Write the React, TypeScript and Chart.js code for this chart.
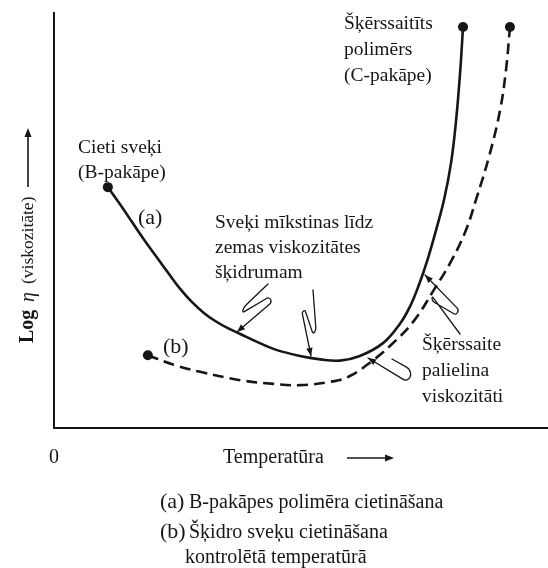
import React, { useEffect, useRef } from "react";
import { Chart, registerables } from "chart.js";

Chart.register(...registerables);

// ---- Data (schematic units: temperature 0..100, log viscosity 0..100) ----
const tempA = [10.9, 13.4, 15.8, 18.2, 20.7, 23.1, 25.5, 27.9, 30.4, 32.8, 35.2, 37.7, 41.1, 44.7, 49.8, 53.9, 57.9, 61.9, 66.6, 70.0, 72.1, 73.9, 75.7, 77.3, 79.0, 80.4, 81.4, 82.2, 82.8];
const viscA = [57.9, 53.7, 49.5, 45.3, 41.2, 37.3, 33.5, 30.3, 27.6, 25.6, 24.0, 22.6, 20.7, 18.9, 17.3, 16.5, 16.2, 17.3, 20.4, 25.0, 29.3, 34.5, 40.8, 47.4, 55.1, 63.9, 74.0, 85.3, 96.4];
const tempB = [19.0, 24.5, 29.6, 37.7, 44.5, 49.8, 55.9, 59.9, 64.6, 68.0, 72.7, 76.9, 80.4, 83.4, 85.4, 88.1, 90.3, 91.5, 92.3];
const viscB = [17.5, 15.1, 13.5, 11.5, 10.6, 10.3, 11.1, 12.5, 16.3, 19.7, 25.5, 33.2, 40.1, 47.6, 54.8, 65.4, 76.4, 86.1, 96.4];

const xTickLabels = ["0"];
const xTitle = "Temperatūra";
const yTitleSub = "(viskozitāte)";
const labelA = "(a)";
const labelB = "(b)";
const noteSolid = ["Cieti sveķi", "(B-pakāpe)"];
const noteCross = ["Šķērssaitīts", "polimērs", "(C-pakāpe)"];
const noteSoften = ["Sveķi mīkstinas līdz", "zemas viskozitātes", "šķidrumam"];
const noteIncrease = ["Šķērssaite", "palielina", "viskozitāti"];
const legendA = "B-pakāpes polimēra cietināšana";
const legendB = ["Šķidro sveķu cietināšana", "kontrolētā temperatūrā"];

const W = 548;
const H = 568;
const FONT = '"Liberation Serif", "Times New Roman", serif';
const INK = "#161616";

function arrowHead(ctx: CanvasRenderingContext2D, fx: number, fy: number, tx: number, ty: number, len = 8, half = 3.2) {
  const a = Math.atan2(ty - fy, tx - fx);
  ctx.beginPath();
  ctx.moveTo(tx, ty);
  ctx.lineTo(tx - len * Math.cos(a) + half * Math.sin(a), ty - len * Math.sin(a) - half * Math.cos(a));
  ctx.lineTo(tx - len * Math.cos(a) - half * Math.sin(a), ty - len * Math.sin(a) + half * Math.cos(a));
  ctx.closePath();
  ctx.fill();
}

function squiggle(ctx: CanvasRenderingContext2D, pts: number[][], d = 5) {
  ctx.beginPath();
  ctx.moveTo(pts[0][0], pts[0][1]);
  for (let i = 1; i < pts.length - 1; i++) {
    const [px, py] = pts[i];
    const [ax0, ay0] = pts[i - 1];
    const [bx1, by1] = pts[i + 1];
    const l1 = Math.hypot(px - ax0, py - ay0);
    const l2 = Math.hypot(bx1 - px, by1 - py);
    const dd = Math.min(d, l1 / 2, l2 / 2);
    const ux = (px - ax0) / l1, uy = (py - ay0) / l1;
    const vx = (bx1 - px) / l2, vy = (by1 - py) / l2;
    const Ax = px - ux * dd, Ay = py - uy * dd;
    const Bx = px + vx * dd, By = py + vy * dd;
    ctx.lineTo(Ax, Ay);
    ctx.quadraticCurveTo(px, py, Bx, By);
  }
  const n = pts.length;
  ctx.lineTo(pts[n - 1][0], pts[n - 1][1]);
  ctx.stroke();
  arrowHead(ctx, pts[n - 2][0], pts[n - 2][1], pts[n - 1][0], pts[n - 1][1]);
}

export default function App() {
  const ref = useRef<HTMLCanvasElement | null>(null);

  useEffect(() => {
    if (!ref.current) return;

    const axesPlugin = {
      id: "axesLines",
      beforeDatasetsDraw(chart: any) {
        const { ctx, chartArea } = chart;
        ctx.save();
        ctx.strokeStyle = INK;
        ctx.lineWidth = 2;
        ctx.beginPath();
        ctx.moveTo(chartArea.left, chartArea.top);
        ctx.lineTo(chartArea.left, chartArea.bottom);
        ctx.lineTo(W, chartArea.bottom);
        ctx.stroke();
        ctx.restore();
      },
    };

    const annotPlugin = {
      id: "annotations",
      afterDatasetsDraw(chart: any) {
        const ctx: CanvasRenderingContext2D = chart.ctx;
        const xs = chart.scales.x;
        ctx.save();
        ctx.fillStyle = INK;
        ctx.strokeStyle = INK;
        ctx.textBaseline = "middle";
        ctx.textAlign = "left";
        ctx.font = `19.5px ${FONT}`;

        const lines = (arr: string[], x: number, y0: number, dy: number) =>
          arr.forEach((t, i) => ctx.fillText(t, x, y0 + i * dy));

        lines(noteSolid, 78, 148, 25);
        lines(noteCross, 344, 24, 26);
        lines(noteSoften, 215, 223, 25);
        lines(noteIncrease, 422, 345, 26);
        ctx.font = `22px ${FONT}`;
        ctx.fillText(labelA, 138, 218);
        ctx.fillText(labelB, 163, 347);

        // axis texts
        ctx.font = `20px ${FONT}`;
        ctx.textAlign = "center";
        ctx.fillText(xTickLabels[0], xs.getPixelForValue(0), 458);
        ctx.textAlign = "left";
        ctx.fillText(xTitle, 223, 458);
        ctx.lineWidth = 1.6;
        ctx.beginPath();
        ctx.moveTo(347, 458);
        ctx.lineTo(388, 458);
        ctx.stroke();
        arrowHead(ctx, 340, 458, 394, 458, 9, 3.5);

        // y title (rotated)
        ctx.save();
        ctx.translate(28, 0);
        ctx.rotate(-Math.PI / 2);
        ctx.textAlign = "left";
        ctx.font = `bold 20px ${FONT}`;
        ctx.fillText("Log", -343, 0);
        ctx.font = `italic 20px ${FONT}`;
        ctx.fillText("η", -302, 1);
        ctx.font = `17.5px ${FONT}`;
        ctx.fillText(yTitleSub, -284, 0);
        ctx.lineWidth = 1.6;
        ctx.beginPath();
        ctx.moveTo(-187, 0);
        ctx.lineTo(-135, 0);
        ctx.stroke();
        arrowHead(ctx, -190, 0, -128, 0, 9, 3.5);
        ctx.restore();

        // squiggly annotation arrows
        ctx.lineWidth = 1.3;
        ctx.lineJoin = "round";
        ctx.lineCap = "round";
        squiggle(ctx, [[268, 284], [244, 307], [242, 313], [269, 297], [272, 302], [237, 332]], 4);
        squiggle(ctx, [[313, 290], [316, 330], [313, 334], [305, 310], [302, 312], [311, 356]], 4);
        squiggle(ctx, [[460, 334], [432, 296], [432, 301], [456, 315], [459, 310], [425, 275]], 4);
        squiggle(ctx, [[392, 359], [410, 369], [411, 377], [406, 381], [368, 358]], 4);

        // bottom legend
        ctx.font = `22px ${FONT}`;
        ctx.fillText(labelA, 160, 502);
        ctx.fillText(labelB, 160, 532);
        ctx.font = `20px ${FONT}`;
        ctx.fillText(legendA, 189, 503);
        ctx.fillText(legendB[0], 189, 533);
        ctx.fillText(legendB[1], 185, 558);
        ctx.restore();
      },
    };

    const ptR = (n: number) => Array.from({ length: n }, (_, i) => (i === 0 || i === n - 1 ? 5 : 0));

    const chart = new Chart(ref.current, {
      type: "line",
      data: {
        datasets: [
          {
            label: "a",
            data: tempA.map((x, i) => ({ x, y: viscA[i] })),
            borderColor: INK,
            borderWidth: 2.6,
            pointRadius: ptR(tempA.length),
            pointBackgroundColor: INK,
            pointBorderWidth: 0,
            tension: 0.4,
            fill: false,
            clip: false,
          } as any,
          {
            label: "b",
            data: tempB.map((x, i) => ({ x, y: viscB[i] })),
            borderColor: INK,
            borderWidth: 2.6,
            borderDash: [11, 6],
            pointRadius: ptR(tempB.length),
            pointBackgroundColor: INK,
            pointBorderWidth: 0,
            tension: 0.4,
            fill: false,
            clip: false,
          } as any,
        ],
      },
      options: {
        responsive: false,
        animation: false,
        events: [],
        layout: { autoPadding: false, padding: { left: 54, top: 12, right: 0, bottom: 140 } },
        scales: {
          x: { type: "linear", min: 0, max: 100, display: false },
          y: { type: "linear", min: 0, max: 100, display: false },
        },
        plugins: { legend: { display: false }, tooltip: { enabled: false } },
      } as any,
      plugins: [axesPlugin, annotPlugin],
    });

    return () => chart.destroy();
  }, []);

  return (
    <div style={{ position: "fixed", left: 0, top: 0, width: W, height: H, background: "#fff" }}>
      <canvas ref={ref} width={W} height={H} style={{ display: "block", width: W, height: H }} />
    </div>
  );
}
